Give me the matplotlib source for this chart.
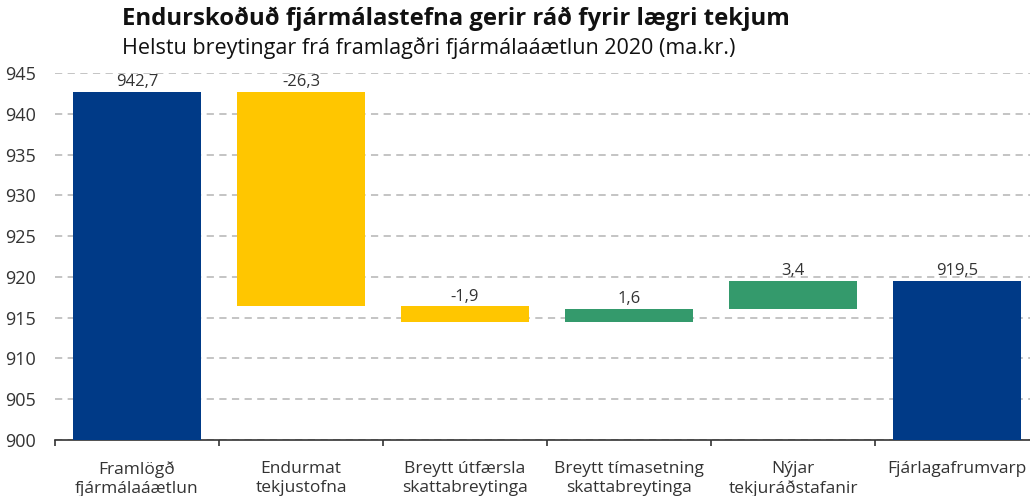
import numpy as np
import matplotlib.pyplot as plt

categories = ['Framlögð\nfjármálaáætlun', 'Endurmat\ntekjustofna', 'Breytt útfærsla\nskattabreytinga',
              'Breytt tímasetning\nskattabreytinga', 'Nýjar\ntekjuráðstafanir', 'Fjárlagafrumvarp']
start_value = 942.7
changes = [-26.3, -1.9, 1.6, 3.4]
end_value = 919.5
labels = ['942,7', '-26,3', '-1,9', '1,6', '3,4', '919,5']

blue = '#003A87'
yellow = '#FFC600'
green = '#349A6C'

plt.rcParams['font.family'] = ['Open Sans', 'DejaVu Sans']

# waterfall: bottoms and heights
levels = np.concatenate([[start_value], start_value + np.cumsum(changes)])
bottoms = [0]
heights = [start_value]
colors = [blue]
for i, c in enumerate(changes):
    lo = min(levels[i], levels[i + 1])
    bottoms.append(lo)
    heights.append(abs(c))
    colors.append(yellow if c < 0 else green)
bottoms.append(0)
heights.append(end_value)
colors.append(blue)

fig = plt.figure(figsize=(10.3, 4.96), dpi=100)
ax = fig.add_axes([0.0534, 0.1129, 0.9553, 0.740])

x = np.arange(len(categories))
ax.bar(x, heights, bottom=bottoms, color=colors, width=0.78, zorder=3)

for xi, b, h, lab in zip(x, bottoms, heights, labels):
    ax.text(xi, b + h + 0.2, lab, ha='center', va='bottom', fontsize=12, color='#333333', zorder=4)

ax.set_ylim(900, 945)
ax.set_xlim(-0.5, len(categories) - 0.5)
ax.set_yticks(np.arange(900, 946, 5))
ax.yaxis.grid(True, linestyle=(0, (4, 3)), color='#BFBFBF', linewidth=1.3, zorder=0)
ax.set_xticks(np.arange(-0.5, len(categories), 1), minor=True)
ax.set_xticks(x)
ax.set_xticklabels(categories, fontsize=12.5, color='#333333', linespacing=1.3)
ax.tick_params(axis='x', which='major', length=0, pad=15)
ax.tick_params(axis='x', which='minor', length=4, color='#333333', width=1.2)
ax.tick_params(axis='y', length=0, labelsize=13, labelcolor='#333333', pad=14)
for s in ['top', 'right', 'left']:
    ax.spines[s].set_visible(False)
ax.spines['bottom'].set_color('#333333')
ax.spines['bottom'].set_linewidth(1.2)

fig.text(0.118, 0.962, 'Endurskoðuð fjármálastefna gerir ráð fyrir lægri tekjum',
         fontsize=17.2, fontweight='bold', ha='left', va='center', color='#111111')
fig.text(0.118, 0.903, 'Helstu breytingar frá framlagðri fjármálaáætlun 2020 (ma.kr.)',
         fontsize=15.5, ha='left', va='center', color='#111111')

fig.savefig('out.png', dpi=100)
